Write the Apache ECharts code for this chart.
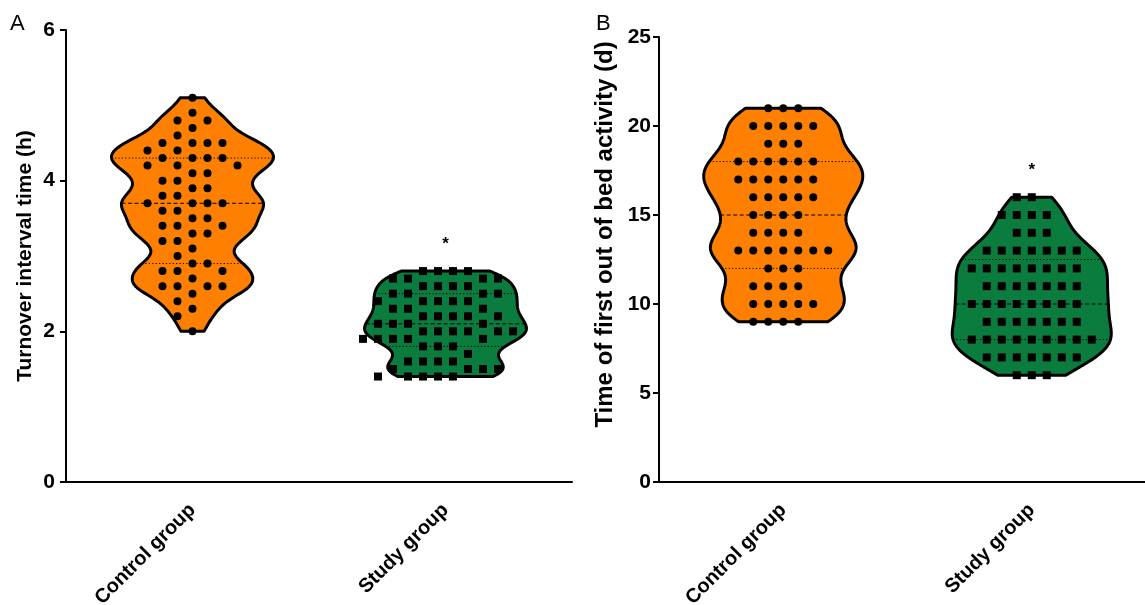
<!DOCTYPE html>
<html>
<head>
<meta charset="utf-8">
<script src="https://cdn.jsdelivr.net/npm/echarts@6/dist/echarts.min.js"></script>
<style>
  html, body { margin: 0; padding: 0; background: #fff; }
  #chart { width: 1145px; height: 605px; }
</style>
</head>
<body>
<div id="chart"></div>
<script>
// Group names on the category axes
const groups = ['Control group', 'Study group'];

// Turnover interval time (h), one value per patient
const turnoverControl = [
  5.1, 4.9, 4.8, 4.8, 4.7, 4.6, 4.5, 4.5, 4.5, 4.5, 4.4, 4.4,
  4.3, 4.3, 4.3, 4.3, 4.2, 4.2, 4.2, 4.1, 4.1, 4.0, 4.0, 3.9, 3.9,
  3.8, 3.8, 3.7, 3.7, 3.7, 3.7, 3.6, 3.6, 3.5, 3.5, 3.4, 3.4, 3.4,
  3.3, 3.3, 3.2, 3.2, 3.1, 3.0, 2.9, 2.9, 2.8, 2.8, 2.8, 2.7,
  2.6, 2.6, 2.6, 2.6, 2.5, 2.4, 2.3, 2.2, 2.0
];
const turnoverStudy = [
  2.8, 2.8, 2.8, 2.8, 2.7, 2.7, 2.7, 2.7, 2.6, 2.6, 2.6, 2.6,
  2.5, 2.5, 2.5, 2.5, 2.4, 2.4, 2.4, 2.4, 2.4, 2.3, 2.3, 2.3,
  2.2, 2.2, 2.2, 2.2, 2.2, 2.1, 2.1, 2.1, 2.1, 2.0, 2.0, 2.0, 2.0, 2.0, 2.0,
  1.9, 1.9, 1.9, 1.9, 1.9, 1.8, 1.8, 1.8, 1.7, 1.6, 1.6, 1.6, 1.6,
  1.5, 1.5, 1.5, 1.5, 1.4, 1.4, 1.4, 1.4, 1.4
];

// Time of first out of bed activity (d), one value per patient
const bedControl = [
  21, 21, 21, 20, 20, 20, 20, 20, 19, 19, 19,
  18, 18, 18, 18, 18, 18, 17, 17, 17, 17, 17, 17,
  16, 16, 16, 16, 16, 15, 15, 15, 15, 14, 14, 14, 14,
  13, 13, 13, 13, 13, 13, 13, 12, 12, 12, 11, 11, 11, 11,
  10, 10, 10, 10, 10, 9, 9, 9, 9
];
const bedStudy = [
  16, 16, 15, 15, 15, 15, 14, 14, 14,
  13, 13, 13, 13, 13, 13, 13, 12, 12, 12, 12, 12, 12, 12, 12,
  11, 11, 11, 11, 11, 11, 11, 10, 10, 10, 10, 10, 10, 10, 10,
  9, 9, 9, 9, 9, 9, 9, 8, 8, 8, 8, 8, 8, 8, 8, 8,
  7, 7, 7, 7, 7, 7, 7, 6, 6, 6
];

const FONT = '"Liberation Sans", Arial, Helvetica, sans-serif';
const FILLS = ['#ff8000', '#0a7d3e'];
const DOT = 8;          // marker size, px
const COL_STEP = 15;    // horizontal step between marker columns, px

// Gaussian kernel density, truncated to the data range
function densityProfile(values, bw, steps) {
  const lo = Math.min(...values), hi = Math.max(...values);
  const out = [];
  for (let i = 0; i <= steps; i++) {
    const v = lo + (hi - lo) * i / steps;
    let d = 0;
    for (const x of values) {
      const z = (v - x) / bw;
      d += Math.exp(-0.5 * z * z);
    }
    out.push([v, d]);
  }
  const mx = Math.max(...out.map(p => p[1]));
  return out.map(p => [p[0], p[1] / mx]);
}
function densityAt(prof, v) {
  for (let i = 1; i < prof.length; i++) {
    if (v <= prof[i][0]) {
      const a = prof[i - 1], b = prof[i];
      const t = (v - a[0]) / ((b[0] - a[0]) || 1);
      return a[1] + (b[1] - a[1]) * t;
    }
  }
  return prof[prof.length - 1][1];
}
// Quartiles with the (n + 1) rank rule
function quantile(values, p) {
  const s = values.slice().sort((a, b) => a - b);
  const r = p * (s.length + 1) - 1;
  const i = Math.max(0, Math.min(s.length - 1, Math.floor(r)));
  const j = Math.min(s.length - 1, i + 1);
  const f = Math.max(0, r - Math.floor(r));
  return s[i] + (s[j] - s[i]) * f;
}

const panels = [
  { sets: [turnoverControl, turnoverStudy], bw: 0.14 },
  { sets: [bedControl, bedStudy], bw: 0.9 }
];
const profiles = panels.map(p => p.sets.map(s => densityProfile(s, p.bw, 160)));
const quartiles = panels.map(p => p.sets.map(s => [quantile(s, 0.25), quantile(s, 0.5), quantile(s, 0.75)]));

function violinSeries(pi) {
  return {
    type: 'custom',
    id: 'violin' + pi,
    xAxisIndex: pi,
    yAxisIndex: pi,
    clip: false,
    z: 2,
    data: [[0], [1]],
    renderItem: function (params, api) {
      const g = api.value(0);
      const prof = profiles[pi][g];
      const W = 0.32 * api.size([1, 0])[0];
      const cx = api.coord([g, prof[0][0]])[0];
      const right = [], left = [];
      for (const [v, d] of prof) {
        const y = api.coord([g, v])[1];
        right.push([cx + d * W, y]);
        left.push([cx - d * W, y]);
      }
      const pts = right.concat(left.reverse());
      const children = [{
        type: 'polygon',
        shape: { points: pts },
        style: { fill: FILLS[g], stroke: '#000', lineWidth: 3, lineJoin: 'round' }
      }];
      quartiles[pi][g].forEach((q, k) => {
        const d = densityAt(prof, q) * W;
        const y = api.coord([g, q])[1];
        children.push({
          type: 'line',
          shape: { x1: cx - d, y1: y, x2: cx + d, y2: y },
          style: {
            stroke: '#000',
            lineWidth: 1,
            lineDash: k === 1 ? [4, 2.5] : [1.2, 2.2]
          }
        });
      });
      return { type: 'group', children: children };
    }
  };
}

function dotSeries(pi) {
  return {
    type: 'custom',
    id: 'dots' + pi,
    xAxisIndex: pi,
    yAxisIndex: pi,
    clip: false,
    z: 4,
    data: [],
    renderItem: function (params, api) {
      const g = api.value(0);
      const p = api.coord([g, api.value(1)]);
      const x = p[0] + api.value(2) * COL_STEP;
      if (g === 0) {
        return { type: 'circle', shape: { cx: x, cy: p[1], r: DOT / 2 }, style: { fill: '#000' } };
      }
      return { type: 'rect', shape: { x: x - DOT / 2, y: p[1] - DOT / 2, width: DOT, height: DOT }, style: { fill: '#000' } };
    }
  };
}

function starSeries(pi) {
  return {
    type: 'custom',
    id: 'star' + pi,
    xAxisIndex: pi,
    yAxisIndex: pi,
    clip: false,
    z: 4,
    data: [[1, Math.max(...panels[pi].sets[1])]],
    renderItem: function (params, api) {
      const p = api.coord([api.value(0), api.value(1)]);
      return {
        type: 'text',
        style: {
          text: '*', x: p[0], y: p[1] - 27,
          align: 'center', verticalAlign: 'middle',
          textAlign: 'center', textVerticalAlign: 'middle',
          font: 'bold 17px ' + FONT, fill: '#000'
        }
      };
    }
  };
}

function xAxis(gi) {
  return {
    type: 'category',
    gridIndex: gi,
    data: groups,
    boundaryGap: true,
    axisLine: { lineStyle: { color: '#000', width: 2 } },
    axisTick: { alignWithLabel: true, length: 6, lineStyle: { color: '#000', width: 2 } },
    axisLabel: {
      rotate: 45, margin: 25, color: '#000',
      fontFamily: FONT, fontWeight: 'bold', fontSize: 20
    },
    splitLine: { show: false }
  };
}
function yAxis(gi, max, interval, name, gap, margin, nameSize, namePad) {
  return {
    type: 'value',
    gridIndex: gi,
    min: 0, max: max, interval: interval,
    name: name,
    nameLocation: 'middle',
    nameGap: gap,
    nameTextStyle: {
      color: '#000', fontFamily: FONT, fontWeight: 'bold',
      fontSize: nameSize, padding: namePad
    },
    axisLine: { show: true, lineStyle: { color: '#000', width: 2 } },
    axisTick: { show: true, length: 6, lineStyle: { color: '#000', width: 2 } },
    axisLabel: { color: '#000', fontFamily: FONT, fontWeight: 'bold', fontSize: 21, margin: margin },
    splitLine: { show: false }
  };
}

const chart = echarts.init(document.getElementById('chart'), null, { renderer: 'canvas' });
chart.setOption({
  animation: false,
  backgroundColor: '#fff',
  grid: [
    { left: 66, top: 30, width: 506, height: 452, containLabel: false, outerBoundsMode: 'none' },
    { left: 659, top: 37, width: 497, height: 445, containLabel: false, outerBoundsMode: 'none' }
  ],
  xAxis: [xAxis(0), xAxis(1)],
  yAxis: [
    yAxis(0, 6, 2, 'Turnover interval time (h)', 30, 11, 21, [0, 0, 0, 0]),
    yAxis(1, 25, 5, 'Time of first out of bed activity (d)', 42, 8, 24, [0, 0, 0, 50])
  ],
  graphic: [
    { type: 'text', left: 10, top: 13, style: { text: 'A', font: '22px ' + FONT, fill: '#000' } },
    { type: 'text', left: 596, top: 13, style: { text: 'B', font: '22px ' + FONT, fill: '#000' } }
  ],
  series: [violinSeries(0), violinSeries(1), dotSeries(0), dotSeries(1), starSeries(0), starSeries(1)]
});

// Marker placement: each point takes the nearest free column (alternating
// sides of the centre) that does not overlap an already placed marker.
function layoutDots(pi, g) {
  const values = panels[pi].sets[g];
  const order = values.map((v, i) => i).sort((a, b) => values[b] - values[a]);
  const shift = (pi === 0 && g === 1) ? 0.5 : 0;
  const cands = [];
  if (shift === 0) {
    cands.push(0);
    for (let k = 1; k < 20; k++) { cands.push(-k, k); }
  } else {
    for (let k = 0; k < 20; k++) { cands.push(-(k + 0.5), k + 0.5); }
  }
  const placed = [];
  const out = [];
  for (const i of order) {
    const v = values[i];
    const py = chart.convertToPixel({ yAxisIndex: pi }, v);
    let col = cands[cands.length - 1];
    for (const c of cands) {
      const hit = placed.some(p => p.c === c && Math.abs(p.py - py) < DOT + 0.5);
      if (!hit) { col = c; break; }
    }
    placed.push({ c: col, py: py });
    out.push([g, v, col]);
  }
  return out;
}

chart.setOption({
  series: [
    { id: 'dots0', data: layoutDots(0, 0).concat(layoutDots(0, 1)) },
    { id: 'dots1', data: layoutDots(1, 0).concat(layoutDots(1, 1)) }
  ]
});
</script>
</body>
</html>
